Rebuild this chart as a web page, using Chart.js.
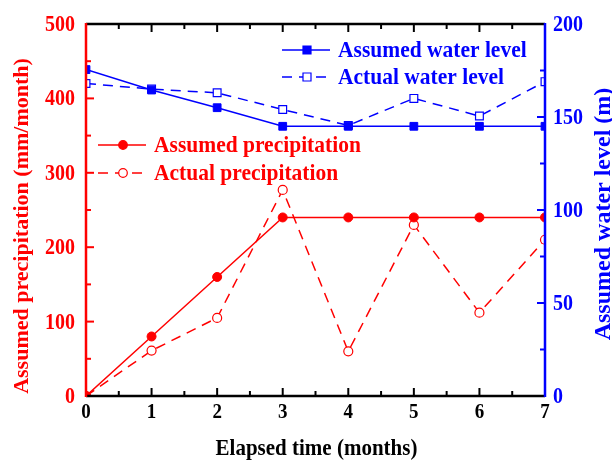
<!DOCTYPE html>
<html><head><meta charset="utf-8">
<script src="https://cdn.jsdelivr.net/npm/chart.js@4/dist/chart.umd.min.js"></script>
<style>html,body{margin:0;padding:0;background:#fff}#wrap{width:612px;height:463px}</style>
</head><body><div id="wrap"><canvas id="c" width="612" height="463"></canvas></div>
<script>
const months = [0,1,2,3,4,5,6,7];
const assumedPrecip = [0,80,160,240,240,240,240,240];
const actualPrecip = [0,61,105,277,60,230,112,210];
const assumedLevel = [175.5,164.5,155,145,145,145,145,145];
const actualLevel = [168,165,163,154,145.5,160,150.5,169];
const leftTicks = [0,100,200,300,400,500];
const rightTicks = [0,50,100,150,200];
const xTitle = 'Elapsed time (months)';
const leftTitle = 'Assumed precipitation (mm/month)';
const rightTitle = 'Assumed water level (m)';

const RED='#ff0000', BLUE='#0000ff';
const FONT='"Liberation Serif","Times New Roman",serif';
const DASH=[10,7];

const toXY = (arr)=>arr.map((v,i)=>({x:months[i],y:v}));

const legendItems = [
 {x0:282,y:50,text:'Assumed water level',color:BLUE,dash:[],style:'rect',fill:true},
 {x0:282,y:77,text:'Actual water level',color:BLUE,dash:DASH,style:'rect',fill:false},
 {x0:98,y:145,text:'Assumed precipitation',color:RED,dash:[],style:'circle',fill:true},
 {x0:98,y:173,text:'Actual precipitation',color:RED,dash:DASH,style:'circle',fill:false}
];

function txt(ctx,s,x,y,size,color,align,rot,sy){
  ctx.save();
  ctx.translate(x,y);
  if(rot) ctx.rotate(rot);
  ctx.scale(1,sy||1);
  ctx.font='bold '+size+'px '+FONT;
  ctx.fillStyle=color;ctx.textAlign=align;ctx.textBaseline='middle';
  ctx.fillText(s,0,0);
  ctx.restore();
}

const decor = {
 id:'decor',
 afterDraw(chart){
  const ctx=chart.ctx, a=chart.chartArea;
  const xs=chart.scales.x, yl=chart.scales.yL, yr=chart.scales.yR;
  ctx.save();
  ctx.lineCap='butt';
  const tick=(x1,y1,x2,y2,col)=>{ctx.strokeStyle=col;ctx.lineWidth=2;ctx.beginPath();ctx.moveTo(x1,y1);ctx.lineTo(x2,y2);ctx.stroke();};
  for(let v=0;v<=7;v+=0.5){
    const px=xs.getPixelForValue(v); const L=(v%1===0)?8:5;
    tick(px,a.bottom,px,a.bottom-L,'#000');
    tick(px,a.top,px,a.top+L,'#000');
  }
  for(let v=0;v<=500;v+=50){
    const py=yl.getPixelForValue(v); const L=(v%100===0)?8:5;
    tick(a.left,py,a.left+L,py,RED);
  }
  for(let v=0;v<=200;v+=25){
    const py=yr.getPixelForValue(v); const L=(v%50===0)?8:5;
    tick(a.right,py,a.right-L,py,BLUE);
  }
  ctx.lineWidth=2.5;
  ctx.strokeStyle='#000';
  ctx.beginPath();ctx.moveTo(a.left,a.top);ctx.lineTo(a.right,a.top);ctx.stroke();
  ctx.beginPath();ctx.moveTo(a.left,a.bottom);ctx.lineTo(a.right,a.bottom);ctx.stroke();
  ctx.strokeStyle=RED;ctx.beginPath();ctx.moveTo(a.left,a.top-1);ctx.lineTo(a.left,a.bottom+1);ctx.stroke();
  ctx.strokeStyle=BLUE;ctx.beginPath();ctx.moveTo(a.right,a.top-1);ctx.lineTo(a.right,a.bottom+1);ctx.stroke();
  // tick labels
  months.forEach(v=>txt(ctx,String(v),xs.getPixelForValue(v),a.bottom+17,19,'#000','center',0,1.05));
  leftTicks.forEach(v=>txt(ctx,String(v),a.left-11,yl.getPixelForValue(v)+1,20,RED,'right',0,1.15));
  rightTicks.forEach(v=>txt(ctx,String(v),a.right+8,yr.getPixelForValue(v)+1,20,BLUE,'left',0,1.15));
  // titles
  txt(ctx,xTitle,(a.left+a.right)/2+1,449,21,'#000','center',0,1.1);
  txt(ctx,leftTitle,22,226,22,RED,'center',-Math.PI/2,1);
  txt(ctx,rightTitle,604,214,24,BLUE,'center',-Math.PI/2,1);
  // legends
  legendItems.forEach(it=>{
    ctx.strokeStyle=it.color;ctx.lineWidth=1.5;ctx.setLineDash(it.dash);
    ctx.beginPath();ctx.moveTo(it.x0,it.y);ctx.lineTo(it.x0+48,it.y);ctx.stroke();
    ctx.setLineDash([]);
    const cx=it.x0+25;
    ctx.fillStyle=it.fill?it.color:'#fff';
    ctx.beginPath();
    if(it.style==='rect'){ctx.rect(cx-4,it.y-4,8,8);} else {ctx.arc(cx,it.y,4.3,0,Math.PI*2);}
    ctx.fill();ctx.lineWidth=1.2;ctx.stroke();
    txt(ctx,it.text,it.x0+56,it.y+1,21.5,it.color,'left',0,1.05);
  });
  ctx.restore();
 }
};

const hiddenTicks={display:false};
new Chart(document.getElementById('c'),{
 type:'line',
 data:{datasets:[
  {label:'Assumed precipitation',data:toXY(assumedPrecip),yAxisID:'yL',borderColor:RED,backgroundColor:RED,borderWidth:1.5,pointStyle:'circle',pointRadius:4.5,pointBorderWidth:1,pointBackgroundColor:RED},
  {label:'Actual precipitation',data:toXY(actualPrecip),yAxisID:'yL',borderColor:RED,backgroundColor:'#fff',borderWidth:1.5,borderDash:DASH,pointStyle:'circle',pointRadius:4.5,pointBorderWidth:1.2,pointBackgroundColor:'#fff'},
  {label:'Assumed water level',data:toXY(assumedLevel),yAxisID:'yR',borderColor:BLUE,backgroundColor:BLUE,borderWidth:1.5,pointStyle:'rect',pointRadius:5.5,pointBorderWidth:1,pointBackgroundColor:BLUE},
  {label:'Actual water level',data:toXY(actualLevel),yAxisID:'yR',borderColor:BLUE,backgroundColor:'#fff',borderWidth:1.5,borderDash:DASH,pointStyle:'rect',pointRadius:5.5,pointBorderWidth:1.2,pointBackgroundColor:'#fff'}
 ]},
 options:{
  responsive:false,animation:false,
  layout:{padding:{top:24,left:0,right:0,bottom:0}},
  plugins:{legend:{display:false},tooltip:{enabled:false}},
  elements:{line:{tension:0}},
  scales:{
   x:{type:'linear',min:0,max:7,
      afterFit(s){s.height=67;},
      grid:{display:false,drawTicks:false},border:{display:false},ticks:hiddenTicks},
   yL:{type:'linear',position:'left',min:0,max:500,
      afterFit(s){s.width=86;},
      grid:{display:false,drawTicks:false},border:{display:false},ticks:hiddenTicks},
   yR:{type:'linear',position:'right',min:0,max:200,
      afterFit(s){s.width=67;},
      grid:{display:false,drawTicks:false},border:{display:false},ticks:hiddenTicks}
  }
 },
 plugins:[decor]
});
</script></body></html>
